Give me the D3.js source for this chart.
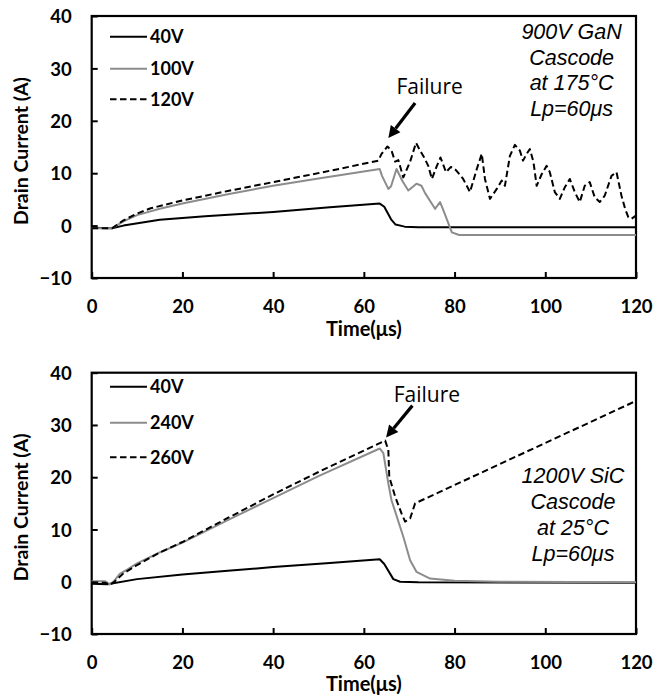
<!DOCTYPE html>
<html><head><meta charset="utf-8">
<script src="https://cdn.jsdelivr.net/npm/d3@7/dist/d3.min.js"></script>
<style>body{margin:0;background:#fff}</style>
</head><body><svg id="c" width="654" height="697"></svg>
<script>
// ---------- data ----------
const xTicks = [0, 20, 40, 60, 80, 100, 120];
const yTicks = [-10, 0, 10, 20, 30, 40];
const xTitle = "Time(\u03bcs)";
const yTitle = "Drain Current (A)";

const ganLabels = ["40V", "100V", "120V"];
const ganNote = ["900V GaN", "Cascode", "at 175\u00b0C", "Lp=60\u03bcs"];
const gan40V = [[0,-0.4],[4.5,-0.5],[7,0.0],[15,1.1],[25,1.8],[40,2.6],[52.5,3.5],[63.5,4.2],[64.5,3.6],[66,1.2],[67,0.2],[69,-0.2],[72,-0.3],[120,-0.3]];
const gan100V = [[0,-0.5],[4.5,-0.5],[7,0.8],[10,2.0],[15,3.2],[20,4.2],[30,6.0],[40,7.6],[50,9.0],[63.5,10.8],[64,9.5],[65.4,7.0],[66,7.5],[67.2,10.8],[68.5,8.5],[69.8,6.7],[71.6,8.0],[72.7,7.6],[73.5,6.2],[75.7,3.2],[76.8,4.5],[77.5,3.0],[79.4,-1.3],[81,-1.8],[120,-1.8]];
const gan120V = [[0,-0.5],[4.5,-0.5],[7,1.0],[10,2.3],[13,3.3],[20,4.8],[30,6.6],[40,8.3],[47,9.5],[55,10.9],[63.2,12.4],[63.9,13.7],[65.2,15.1],[66.1,14.3],[66.9,12.2],[67.6,12.5],[68.7,9.2],[70.2,12.2],[71.5,15.8],[72.4,14.3],[73.3,13.0],[74.2,11.4],[75,8.9],[76.1,11.4],[76.9,13.0],[77.6,11.4],[78.1,10.2],[79.2,11.2],[80.3,10.6],[81.9,8.9],[83.4,6.4],[84.9,10.8],[86,13.7],[86.7,8.9],[87.8,5.1],[89.3,7.0],[90.4,8.6],[91.1,7.6],[92.2,13.3],[93.3,15.4],[94.4,14.3],[95.1,12.4],[95.9,13.7],[96.6,14.6],[97.4,12.1],[98.1,7.6],[99.2,9.8],[100.3,11.4],[101,10.2],[102.1,6.4],[103.2,5.1],[104.3,7.3],[105.4,8.9],[106.5,6.4],[107.6,4.5],[108.7,7.6],[109.8,8.3],[110.9,5.4],[112,4.5],[113.1,5.7],[114.6,9.5],[115.7,10.2],[116.8,5.7],[117.6,3.2],[118.3,1.6],[119,1.3],[120,1.9]];

const sicLabels = ["40V", "240V", "260V"];
const sicNote = ["1200V SiC", "Cascode", "at 25\u00b0C", "Lp=60\u03bcs"];
const sic40V = [[0,-0.4],[3.5,-0.5],[10,0.5],[20,1.4],[30,2.1],[40,2.8],[52.5,3.6],[63.5,4.3],[64.5,3.4],[66.5,0.5],[68,0.0],[72,-0.1],[120,-0.2]];
const sic240V = [[0,0.1],[3,0.1],[4,-0.5],[5,0.2],[6.2,1.5],[8,2.4],[10,3.5],[15,5.6],[20,7.5],[30,11.8],[40,16.0],[50,20.2],[63.5,25.5],[64.3,24.6],[65.4,18.8],[66.1,15.6],[68.7,8.6],[70.2,4.1],[71.6,1.9],[74.6,0.6],[80,0.2],[90,0.0],[120,-0.1]];
const sic260V = [[0,-0.1],[3,-0.2],[4,-0.6],[5,0.0],[7,1.6],[10,3.2],[15,5.6],[20,7.6],[30,12.2],[40,16.7],[50,21.0],[64.7,27.0],[65.4,25.2],[65.6,20.1],[66.9,16.3],[68.3,13.1],[69.1,11.5],[70.2,12.1],[71.3,15.0],[120,34.6]];

// annotation anchors in data units
const ganFailure = {text:[74.5, 25.1], from:[71.3, 23.4], to:[65.4, 16.7]};
const sicFailure = {text:[73.9, 34.4], from:[70.7, 33.7], to:[64.9, 27.6]};
const ganNoteAt = [105.8, 35.6];
const sicNoteAt = [106.1, 18.8];

// ---------- layout ----------
const left = 91.7, right = 636;
const styles = [
  {stroke:"#000", dash:null},
  {stroke:"#8c8c8c", dash:null},
  {stroke:"#000", dash:"6.5,3.5"}
];
const panels = [
  {top:16, bottom:278, series:[gan40V, gan100V, gan120V], labels:ganLabels, legendRows:[36.7, 68.7, 99.3],
   note:ganNote, noteAt:ganNoteAt, failure:ganFailure, titleGap:58},
  {top:372.7, bottom:634, series:[sic40V, sic240V, sic260V], labels:sicLabels, legendRows:[386.7, 422.7, 457.3],
   note:sicNote, noteAt:sicNoteAt, failure:sicFailure, titleGap:57}
];

const svg = d3.select("#c");
const boldFont = "Lato, 'DejaVu Sans', sans-serif";
const x = d3.scaleLinear().domain([0,120]).range([left, right]);

panels.forEach(p => {
  const y = d3.scaleLinear().domain([-10,40]).range([p.bottom, p.top]);
  const g = svg.append("g");

  // axes (ticks inside)
  const xa = g.append("g").attr("transform", `translate(0,${p.bottom})`)
    .call(d3.axisBottom(x).tickValues(xTicks).tickSize(-6).tickFormat(d3.format("d")));
  xa.select(".domain").remove();
  xa.selectAll("line").attr("stroke","#000").attr("stroke-width",2);
  xa.selectAll("text").attr("y",35).attr("dy",null)
    .style("font-family",boldFont).style("font-weight","bold").style("font-size","18.5px").attr("fill","#000");

  const ya = g.append("g").attr("transform", `translate(${left},0)`)
    .call(d3.axisLeft(y).tickValues(yTicks).tickSize(-6).tickPadding(20).tickFormat(d3.format("d")));
  ya.select(".domain").remove();
  ya.selectAll("line").attr("stroke","#000").attr("stroke-width",2);
  ya.selectAll("text").attr("dy","0.36em")
    .style("font-family",boldFont).style("font-weight","bold").style("font-size","18.5px").attr("fill","#000");

  // frame
  g.append("rect").attr("x",left).attr("y",p.top).attr("width",right-left).attr("height",p.bottom-p.top)
    .attr("fill","none").attr("stroke","#000").attr("stroke-width",2.2);

  // lines
  const line = d3.line().x(d => x(d[0])).y(d => y(d[1]));
  p.series.forEach((s,i) => {
    g.append("path").datum(s).attr("d",line).attr("fill","none")
      .attr("stroke",styles[i].stroke).attr("stroke-width",2)
      .attr("stroke-dasharray",styles[i].dash).attr("stroke-linejoin","round");
  });

  // legend
  p.labels.forEach((lab,i) => {
    const yy = p.legendRows[i];
    g.append("line").attr("x1",110).attr("x2",147).attr("y1",yy).attr("y2",yy)
      .attr("stroke",styles[i].stroke).attr("stroke-width",2).attr("stroke-dasharray",styles[i].dash);
    g.append("text").attr("x",150).attr("y",yy).attr("dy","0.36em").text(lab)
      .style("font-family",boldFont).style("font-weight","bold").style("font-size","18px");
  });

  // axis titles
  g.append("text").attr("x",(left+right)/2).attr("y",p.bottom+p.titleGap).attr("text-anchor","middle")
    .text(xTitle).style("font-family",boldFont).style("font-weight","bold").style("font-size","20px");
  const cy = (p.top+p.bottom)/2 + 4;
  g.append("text").attr("transform",`translate(28,${cy}) rotate(-90)`).attr("text-anchor","middle")
    .text(yTitle).style("font-family",boldFont).style("font-weight","bold").style("font-size","19.5px");

  // note
  p.note.forEach((t,i) => {
    g.append("text").attr("x",x(p.noteAt[0])).attr("y",y(p.noteAt[1]) + i*25.7)
      .attr("text-anchor","middle").text(t)
      .style("font-family","'Liberation Sans', Arial, sans-serif").style("font-style","italic").style("font-size","21.5px");
  });

  // failure annotation
  const f = p.failure;
  g.append("text").attr("x",x(f.text[0])).attr("y",y(f.text[1])).attr("text-anchor","middle")
    .text("Failure").style("font-family","'Open Sans', sans-serif").style("font-size","21px");
  const x1 = x(f.from[0]), y1 = y(f.from[1]), x2 = x(f.to[0]), y2 = y(f.to[1]);
  const ang = Math.atan2(y2-y1, x2-x1);
  const hl = 12, hw = 6;
  const bx = x2 - hl*Math.cos(ang), by = y2 - hl*Math.sin(ang);
  g.append("line").attr("x1",x1).attr("y1",y1).attr("x2",bx).attr("y2",by)
    .attr("stroke","#000").attr("stroke-width",3.2);
  const px = -Math.sin(ang), py = Math.cos(ang);
  g.append("path").attr("d",`M${x2},${y2}L${bx+hw*px},${by+hw*py}L${bx-hw*px},${by-hw*py}Z`).attr("fill","#000");
});
</script></body></html>
